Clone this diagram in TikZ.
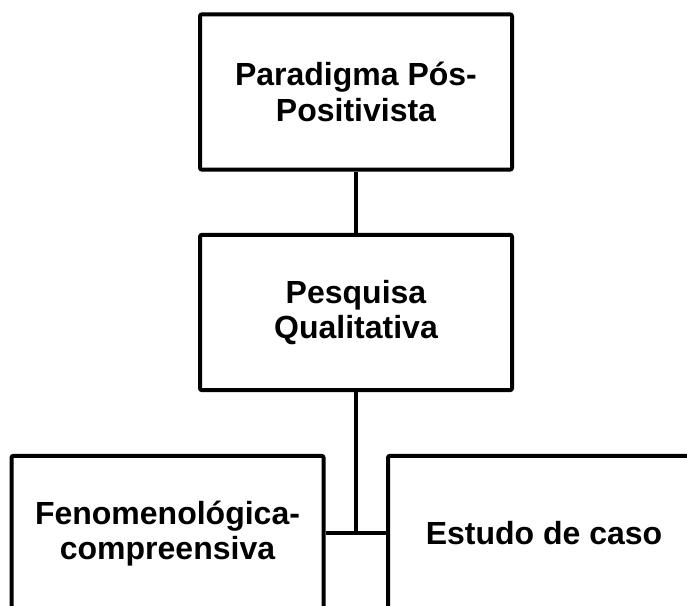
\documentclass[tikz,border=0pt]{standalone}
\usepackage{fontspec}
\setmainfont{Liberation Sans}
\usepackage{tikz}
\tikzset{
	caixa/.style={draw, line width=3pt, rounded corners=1.5pt, minimum width=234pt,
		minimum height=116.5pt, inner sep=0pt, align=center,
		font=\bfseries\fontsize{24}{26.5}\selectfont},
	ligacao/.style={draw, line width=3pt}
}
\begin{document}
\begin{tikzpicture}[x=0.75pt, y=0.75pt]
	% frame
	\useasboundingbox (0,0) rectangle (687,606);
	\clip (0,0) rectangle (687,606);
	
	% boxes
	\node[caixa] (paradigma) at (356,514) {Paradigma Pós-\\Positivista};
	\node[caixa] (pesquisa) at (356,293.5) {Pesquisa\\Qualitativa};
	\node[caixa] (fenomeno) at (167.5,72.5) {Fenomenológica-\\compreensiva};
	\node[caixa] (estudo) at (544,72.5) {Estudo de caso};
	
	% connectors
	\coordinate (juncao) at (pesquisa.south |- fenomeno.east);
	\draw[ligacao] (paradigma) -- (pesquisa);
	\draw[ligacao] (pesquisa) -- (juncao);
	\draw[ligacao] (fenomeno.east) -- (estudo.west);
\end{tikzpicture}
\end{document}
